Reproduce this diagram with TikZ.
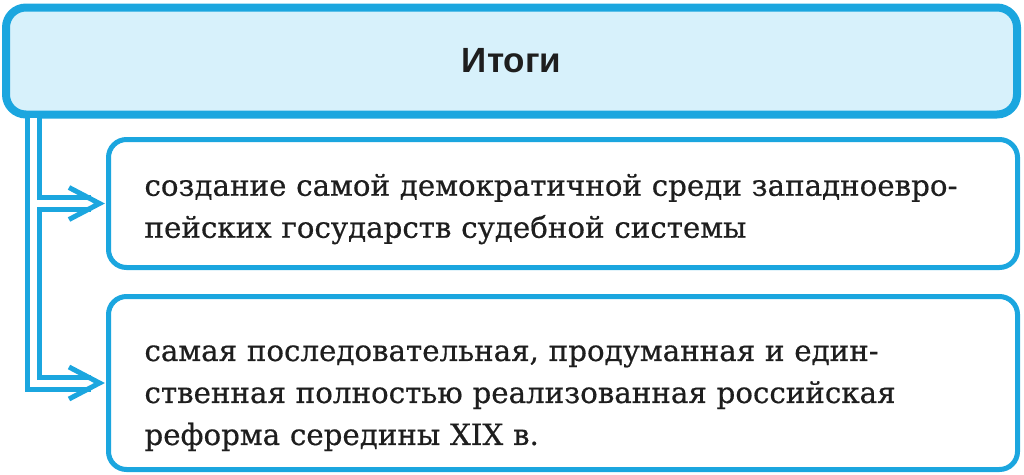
\documentclass[tikz,border=0pt]{standalone}
\usepackage{fontspec}
\setmainfont{DejaVu Serif}[FakeBold=0.5]
\newfontfamily\titlefont{Liberation Sans}
\usetikzlibrary{positioning}
\definecolor{itogiblue}{HTML}{1BA6DF}
\definecolor{itogifill}{HTML}{D7F1FB}
\definecolor{itogitext}{HTML}{1E1E1E}
\begin{document}
\begin{tikzpicture}[x=1pt,y=1pt,
	headbox/.style={draw=itogiblue,fill=itogifill,line width=8pt,rounded corners=20pt,
		minimum width=1011pt,minimum height=107pt,font=\titlefont\bfseries\fontsize{35}{42}\selectfont,text=itogitext},
	itembox/.style 2 args={draw=itogiblue,fill=white,line width=5pt,rounded corners=18pt,
		text width=837pt,inner xsep=36pt,align=left,minimum height=#1,
		execute at begin node={\rule{0pt}{#2}},
		font=\fontsize{29.3}{42}\selectfont,text=itogitext},
	tip/.style={draw=itogiblue,line width=5pt,line join=miter}]
	\useasboundingbox (0,0) rectangle (1024,-474);
	\node[headbox] (top) at (511.5,-61) {Итоги};
	\node[itembox={128pt}{33pt},below left=18.5pt and 1pt of top.south east] (b1)
		{создание самой демократичной среди западноевро-\\пейских государств судебной системы};
	\node[itembox={173pt}{46pt},below=24pt of b1] (b2)
		{самая последовательная, продуманная и един-\\ственная полностью реализованная российская\\реформа середины XIX в.};
	\coordinate (trunk) at ([xshift=31.5pt,yshift=0.5pt]top.south west);
	\foreach \c/\w in {itogiblue/17,white/7}{
		\draw[draw=\c,line width=\w pt] (trunk) |- ([xshift=-15pt]b2.west);
		\draw[draw=\c,line width=\w pt] (trunk |- b1.west) -- ([xshift=-15pt]b1.west);
	}
	\foreach \b in {b1,b2}
		\draw[tip] ([shift={(-37pt,16pt)}]\b.west) -- ([xshift=-6.5pt]\b.west) -- ([shift={(-37pt,-16pt)}]\b.west);
\end{tikzpicture}
\end{document}
